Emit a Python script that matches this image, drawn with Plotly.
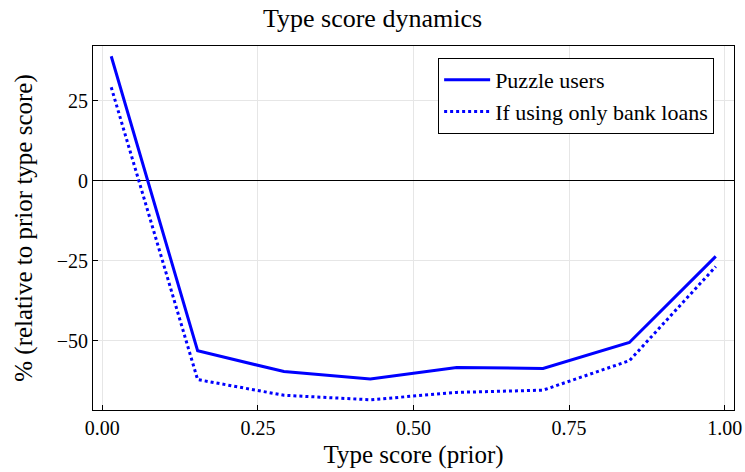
import plotly.graph_objects as go

x_prior = [0.0143, 0.1531, 0.2918, 0.4306, 0.5694, 0.7082, 0.8469, 0.9857]
puzzle_users = [38.9, -53.1, -59.6, -61.9, -58.3, -58.6, -50.5, -23.6]
bank_only = [29.2, -62.1, -67.0, -68.4, -66.1, -65.4, -56.2, -26.8]

x_ticks = [0.0, 0.25, 0.5, 0.75, 1.0]
x_tick_labels = ["0.00", "0.25", "0.50", "0.75", "1.00"]
y_ticks = [-50, -25, 0, 25]

FONT = "Liberation Serif"

fig = go.Figure()
fig.add_trace(go.Scatter(x=x_prior, y=puzzle_users, mode="lines", name="Puzzle users",
                         line=dict(color="#0000ff", width=3)))
fig.add_trace(go.Scatter(x=x_prior, y=bank_only, mode="lines", name="If using only bank loans",
                         line=dict(color="#0000ff", width=3, dash="dot")))

axis_common = dict(showline=True, linecolor="black", linewidth=1, mirror=True,
                   ticks="inside", ticklen=5, tickcolor="black",
                   showgrid=True, gridcolor="#e6e6e6", gridwidth=1,
                   automargin=False,
                   tickfont=dict(family=FONT, size=20, color="black"))

fig.update_layout(
    width=745, height=472,
    margin=dict(l=93, r=11, t=46, b=62),
    paper_bgcolor="white", plot_bgcolor="white",
    title=dict(text="Type score dynamics", x=0.5, xanchor="center", y=0.962, yanchor="middle",
               font=dict(family=FONT, size=26, color="black")),
    xaxis=dict(range=[-0.015, 1.015], tickvals=x_ticks, ticktext=x_tick_labels,
               zeroline=False,
               title=dict(text="Type score (prior)", font=dict(family=FONT, size=25, color="black"), standoff=7),
               **axis_common),
    yaxis=dict(range=[-71.6, 42.1], tickvals=y_ticks,
               zeroline=True, zerolinecolor="black", zerolinewidth=1,
               title=dict(text="% (relative to prior type score)", font=dict(family=FONT, size=25, color="black"), standoff=16),
               **axis_common),
    legend=dict(x=0.969, y=0.967, xanchor="right", yanchor="top",
                bgcolor="white", bordercolor="black", borderwidth=1,
                font=dict(family=FONT, size=22, color="black"),
                itemwidth=46, tracegroupgap=0),
    showlegend=True,
)

fig.write_html("out.html", post_script="document.body.style.margin='0px';",
               config={"displayModeBar": False})
